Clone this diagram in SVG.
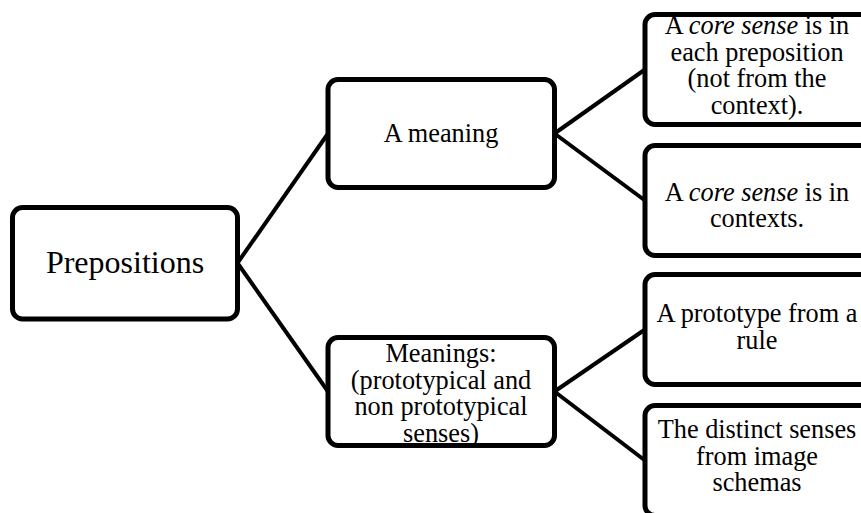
<svg xmlns="http://www.w3.org/2000/svg" width="861" height="513" viewBox="0 0 861 513">
<style>
.box{fill:#fff;stroke:#000;stroke-width:5}
.ln{stroke:#000;stroke-width:4;fill:none}
text{font-family:"Liberation Serif","Times New Roman",serif;fill:#000;text-anchor:middle;font-size:26.3px}
.big{font-size:32px}
.it{font-style:italic}
</style>
<rect width="861" height="513" fill="#fff"/>
<g id="connectors">
<line class="ln" x1="237.5" y1="263" x2="328" y2="133.5"/>
<line class="ln" x1="237.5" y1="263" x2="328" y2="391.5"/>
<line class="ln" x1="554.5" y1="133.5" x2="645" y2="69.5"/>
<line class="ln" x1="554.5" y1="133.5" x2="645" y2="200.5"/>
<line class="ln" x1="554.5" y1="391.5" x2="645" y2="329.5"/>
<line class="ln" x1="554.5" y1="391.5" x2="645" y2="460.5"/>
</g>
<g id="prepositions">
<rect class="box" x="12.5" y="207.5" width="225" height="111.5" rx="10"/>
<text class="big" x="125" y="273">Prepositions</text>
</g>
<g id="a-meaning">
<rect class="box" x="328" y="79.5" width="226.5" height="108" rx="10"/>
<text x="441" y="142">A meaning</text>
</g>
<g id="meanings">
<rect class="box" x="328" y="337.5" width="226.5" height="108" rx="10"/>
<text x="441" y="362">Meanings:</text>
<text x="441" y="388.5">(prototypical and</text>
<text x="441" y="415">non prototypical</text>
<text x="441" y="441.5">senses)</text>
</g>
<g id="core-preposition">
<rect class="box" x="645" y="14.5" width="225" height="110" rx="10"/>
<text x="757" y="34">A <tspan class="it">core sense</tspan> is in</text>
<text x="757" y="60.5">each preposition</text>
<text x="757" y="87">(not from the</text>
<text x="757" y="113.5">context).</text>
</g>
<g id="core-contexts">
<rect class="box" x="645" y="145.5" width="225" height="110" rx="10"/>
<text x="757" y="200.5">A <tspan class="it">core sense</tspan> is in</text>
<text x="757" y="227">contexts.</text>
</g>
<g id="prototype-rule">
<rect class="box" x="645" y="274.5" width="225" height="110" rx="10"/>
<text x="757" y="322">A prototype from a</text>
<text x="757" y="348.5">rule</text>
</g>
<g id="distinct-senses">
<rect class="box" x="645" y="405.5" width="225" height="110" rx="10"/>
<text x="757" y="438">The distinct senses</text>
<text x="757" y="464.5">from image</text>
<text x="757" y="491">schemas</text>
</g>
</svg>
